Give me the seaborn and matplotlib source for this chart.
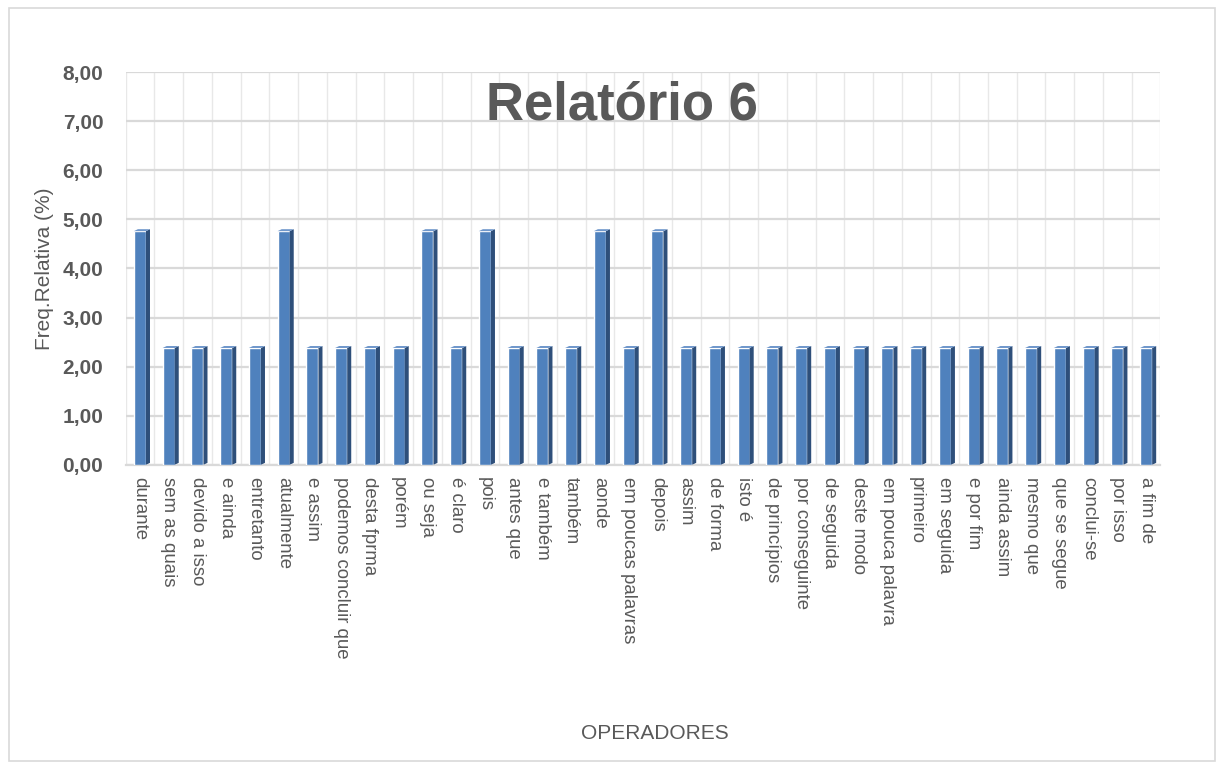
import matplotlib
matplotlib.use("Agg")
import matplotlib.pyplot as plt
from matplotlib.patches import Polygon, Rectangle
from matplotlib.ticker import FuncFormatter, MultipleLocator
import numpy as np
import pandas as pd
import seaborn as sns

operadores = [
    "durante", "sem as quais", "devido a isso", "e ainda", "entretanto",
    "atualmente", "e assim", "podemos concluir que", "desta fprma", "porém",
    "ou seja", "é claro", "pois", "antes que", "e também", "também", "aonde",
    "em poucas palavras", "depois", "assim", "de forma", "isto é",
    "de princípios", "por conseguinte", "de seguida", "deste modo",
    "em pouca palavra", "primeiro", "em seguida", "e por fim", "ainda assim",
    "mesmo que", "que se segue", "conclui-se", "por isso", "a fim de",
]
freq_relativa = [
    4.76, 2.38, 2.38, 2.38, 2.38, 4.76, 2.38, 2.38, 2.38, 2.38, 4.76, 2.38,
    4.76, 2.38, 2.38, 2.38, 4.76, 2.38, 4.76, 2.38, 2.38, 2.38, 2.38, 2.38,
    2.38, 2.38, 2.38, 2.38, 2.38, 2.38, 2.38, 2.38, 2.38, 2.38, 2.38, 2.38,
]

df = pd.DataFrame({"operador": operadores, "freq": freq_relativa})

sns.set_style("white")
plt.rcParams["font.family"] = ["Liberation Sans", "DejaVu Sans"]

TEXT = "#595959"
FRONT = "#4F81BD"
SIDE = "#2E4F7A"
TOP = "#6F97CB"

fig = plt.figure(figsize=(12.19, 7.67), dpi=100)
ax = fig.add_axes([0.103, 0.394, 0.849, 0.512])

sns.barplot(df, x="operador", y="freq", color=FRONT, width=0.42,
            saturation=1, ax=ax, zorder=3)

# fake 3D side / top faces
dx, dy = 0.14, 0.04
for bar in ax.patches[:]:
    x0 = bar.get_x()
    w = bar.get_width()
    h = bar.get_height()
    side = Polygon([(x0 + w, 0), (x0 + w + dx, dy), (x0 + w + dx, h + dy),
                    (x0 + w, h)], closed=True, facecolor=SIDE,
                   edgecolor="none", zorder=3)
    top = Polygon([(x0, h), (x0 + dx, h + dy), (x0 + w + dx, h + dy),
                   (x0 + w, h)], closed=True, facecolor=TOP,
                  edgecolor="none", zorder=3)
    ax.add_patch(side)
    ax.add_patch(top)

ax.set_ylim(0, 8)
ax.set_xlim(-0.5, len(operadores) - 0.5)
ax.yaxis.set_major_locator(MultipleLocator(1))
ax.yaxis.set_major_formatter(FuncFormatter(lambda v, p: f"{v:.2f}".replace(".", ",")))

ax.grid(axis="y", color="#D9D9D9", linewidth=1.6, zorder=0)
ax.set_xticks(np.arange(-0.5, len(operadores), 0.5), minor=True)
ax.grid(axis="x", which="minor", color="#E8E8E8", linewidth=1.0, zorder=0)
ax.set_axisbelow(True)

for s in ["top", "right", "left"]:
    ax.spines[s].set_visible(False)
ax.spines["bottom"].set_color("#D9D9D9")
ax.spines["bottom"].set_linewidth(1.6)

ax.tick_params(axis="y", length=0, pad=16, labelsize=15, labelcolor=TEXT)
ax.tick_params(axis="x", which="both", length=0, pad=9, labelsize=13.4,
               labelcolor=TEXT)
for lab in ax.get_yticklabels():
    lab.set_fontweight("bold")
ax.set_xticks(range(len(operadores)))
ax.set_xticklabels(operadores, rotation=-90, ha="center", va="top")

ax.set_xlabel("")
ax.set_ylabel("Freq.Relativa (%)", fontsize=15, color=TEXT)
ax.yaxis.set_label_coords(-0.069, 0.5)

fig.text(0.537, 0.044, "OPERADORES", fontsize=15, color=TEXT, ha="center",
         va="center")
fig.text(0.51, 0.862, "Relatório 6", fontsize=38, fontweight="bold",
         color=TEXT, ha="center", va="center")

fig.patches.append(Rectangle((0.007, 0.008), 0.99, 0.982,
                             transform=fig.transFigure, fill=False,
                             edgecolor="#D9D9D9", linewidth=1.2))

fig.savefig("out.png", dpi=100)
